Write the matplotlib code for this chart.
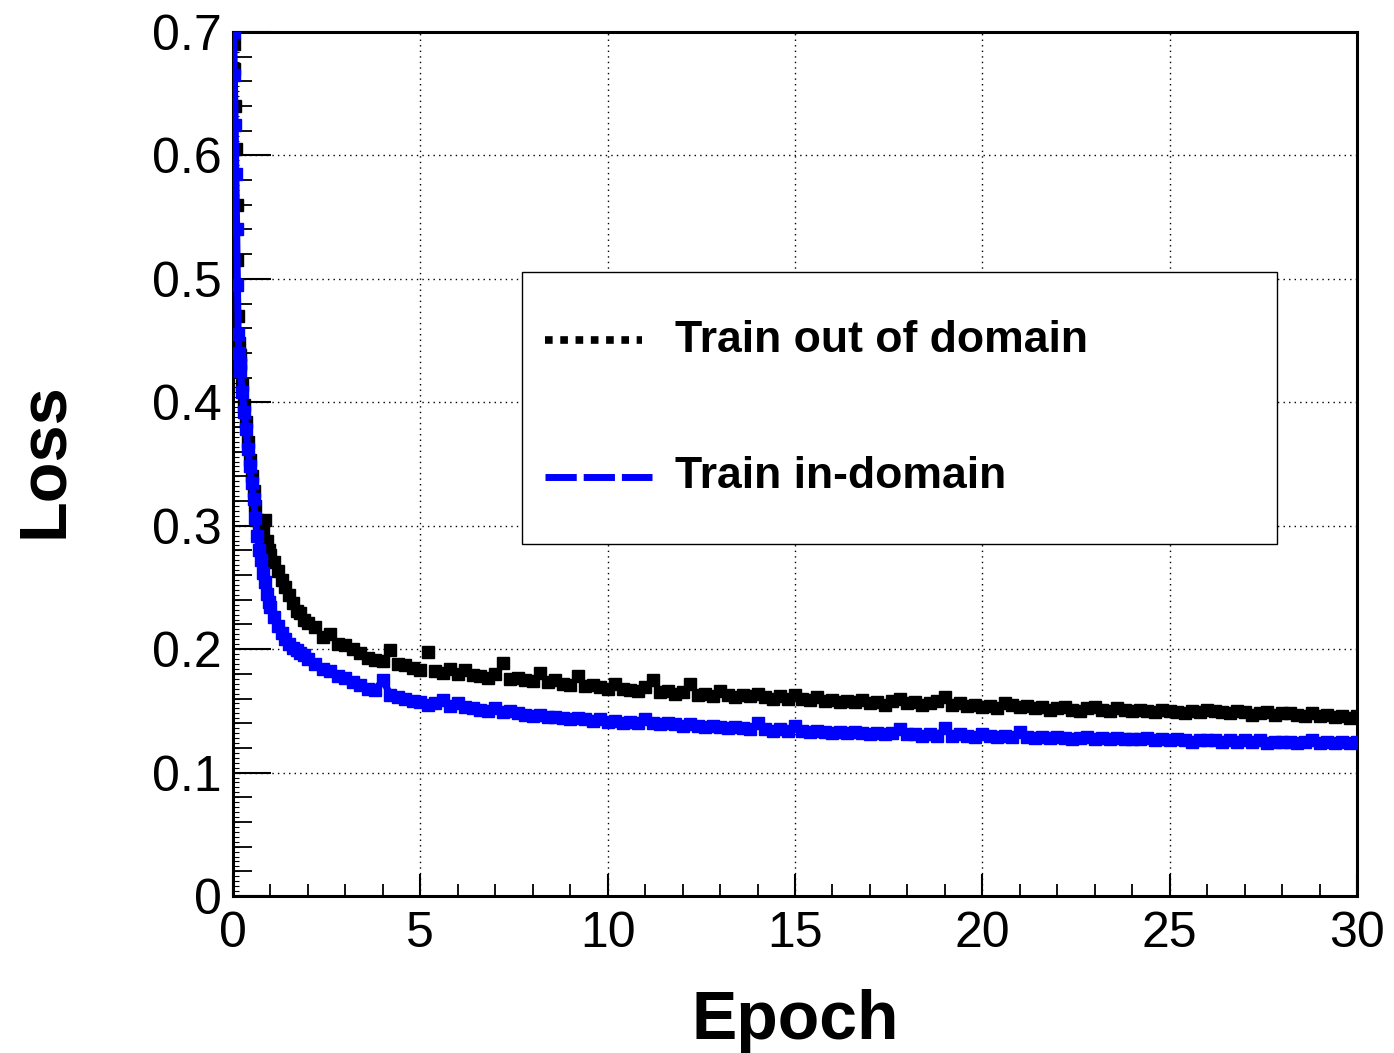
import numpy as np
import matplotlib.pyplot as plt
import matplotlib.patches as patches
from matplotlib.lines import Line2D
from matplotlib.ticker import MultipleLocator, FuncFormatter

plt.rcParams['font.family'] = ['Liberation Sans', 'DejaVu Sans']

# --- data ------------------------------------------------------------------
# first two epochs are logged more densely
epochs_early = [0.02, 0.04, 0.06, 0.08, 0.10, 0.12, 0.14, 0.16, 0.18, 0.20,
                0.25, 0.30, 0.35, 0.40, 0.45, 0.50, 0.55, 0.60, 0.65, 0.70,
                0.75, 0.80, 0.85, 0.90, 0.95, 1.00, 1.1, 1.2, 1.3, 1.4,
                1.5, 1.6, 1.7, 1.8, 1.9, 2.0]
loss_out_early = [0.690, 0.670, 0.640, 0.605, 0.560, 0.515, 0.470, 0.448, 0.438, 0.430,
                  0.414, 0.398, 0.384, 0.368, 0.353, 0.340, 0.328, 0.316, 0.305, 0.297,
                  0.292, 0.296, 0.305, 0.288, 0.280, 0.276, 0.271, 0.263, 0.256, 0.250,
                  0.244, 0.237, 0.231, 0.229, 0.224, 0.221]
loss_in_early = [0.700, 0.665, 0.625, 0.585, 0.540, 0.495, 0.455, 0.440, 0.432, 0.425,
                 0.408, 0.392, 0.378, 0.362, 0.348, 0.335, 0.322, 0.306, 0.292, 0.280,
                 0.272, 0.262, 0.254, 0.245, 0.238, 0.234, 0.226, 0.219, 0.213, 0.208,
                 0.204, 0.201, 0.199, 0.197, 0.195, 0.192]

# afterwards every 0.2 epoch, from 2.2 to 30.0
epochs_late = np.round(np.arange(2.2, 30.01, 0.2), 1)
loss_out_late = [
    0.218, 0.210, 0.212, 0.204, 0.203, 0.200, 0.197, 0.193, 0.191, 0.190,
    0.199, 0.188, 0.187, 0.185, 0.183, 0.198, 0.182, 0.181, 0.184, 0.180,
    0.183, 0.179, 0.178, 0.177, 0.180, 0.189, 0.176, 0.177, 0.175, 0.174,
    0.181, 0.173, 0.175, 0.172, 0.171, 0.178, 0.170, 0.171, 0.169, 0.168,
    0.172, 0.168, 0.167, 0.166, 0.169, 0.175, 0.165, 0.166, 0.164, 0.165,
    0.172, 0.163, 0.164, 0.162, 0.166, 0.163, 0.161, 0.163, 0.162, 0.164,
    0.161, 0.160, 0.162, 0.160, 0.163, 0.160, 0.159, 0.161, 0.158, 0.159,
    0.157, 0.158, 0.157, 0.159, 0.156, 0.157, 0.155, 0.158, 0.160, 0.156,
    0.157, 0.155, 0.156, 0.158, 0.161, 0.155, 0.156, 0.154, 0.155, 0.153,
    0.154, 0.152, 0.156, 0.155, 0.153, 0.154, 0.152, 0.153, 0.151, 0.152,
    0.153, 0.151, 0.150, 0.152, 0.153, 0.151, 0.150, 0.152, 0.151, 0.150,
    0.151, 0.150, 0.149, 0.151, 0.150, 0.149, 0.148, 0.150, 0.149, 0.151,
    0.150, 0.149, 0.148, 0.150, 0.149, 0.147, 0.148, 0.149, 0.147, 0.148,
    0.148, 0.147, 0.146, 0.148, 0.146, 0.147, 0.145, 0.146, 0.144, 0.146,
]
loss_in_late = [
    0.188, 0.184, 0.182, 0.178, 0.177, 0.173, 0.171, 0.168, 0.167, 0.175,
    0.163, 0.161, 0.160, 0.158, 0.157, 0.155, 0.156, 0.159, 0.154, 0.156,
    0.153, 0.152, 0.151, 0.150, 0.152, 0.149, 0.150, 0.148, 0.147, 0.146,
    0.147, 0.145, 0.145, 0.144, 0.143, 0.144, 0.143, 0.142, 0.143, 0.141,
    0.142, 0.140, 0.141, 0.140, 0.143, 0.140, 0.139, 0.140, 0.139, 0.138,
    0.139, 0.138, 0.137, 0.138, 0.137, 0.136, 0.137, 0.136, 0.135, 0.140,
    0.135, 0.134, 0.135, 0.134, 0.138, 0.134, 0.133, 0.134, 0.133, 0.132,
    0.133, 0.132, 0.133, 0.132, 0.131, 0.132, 0.131, 0.132, 0.135, 0.131,
    0.131, 0.130, 0.131, 0.130, 0.136, 0.130, 0.131, 0.130, 0.129, 0.131,
    0.130, 0.129, 0.130, 0.129, 0.133, 0.129, 0.128, 0.129, 0.128, 0.129,
    0.128, 0.127, 0.128, 0.129, 0.127, 0.128, 0.127, 0.128, 0.127, 0.127,
    0.127, 0.128, 0.126, 0.127, 0.126, 0.127, 0.126, 0.125, 0.126, 0.126,
    0.126, 0.125, 0.126, 0.125, 0.126, 0.125, 0.126, 0.124, 0.125, 0.125,
    0.125, 0.124, 0.125, 0.126, 0.124, 0.125, 0.124, 0.125, 0.124, 0.125,
]

series_labels = ['Train out of domain', 'Train in-domain']

epochs = np.concatenate([epochs_early, epochs_late])
loss_out = np.concatenate([loss_out_early, loss_out_late])
loss_in = np.concatenate([loss_in_early, loss_in_late])

BLUE = '#0000ff'

fig = plt.figure(figsize=(13.94, 10.53), dpi=100)
ax = fig.add_axes([0.1671, 0.1491, 0.8064, 0.8205])

ax.plot(epochs, loss_out, ls='none', marker='s', ms=8, color='black', zorder=3)
ax.plot(epochs, loss_in, ls='-', lw=5, marker='s', ms=8, color=BLUE,
        mec=BLUE, zorder=4)

ax.set_xlim(0, 30)
ax.set_ylim(0, 0.7)

# ROOT-like axes: inward ticks, dotted grid
ax.xaxis.set_major_locator(MultipleLocator(5))
ax.xaxis.set_minor_locator(MultipleLocator(1))
ax.yaxis.set_major_locator(MultipleLocator(0.1))
ax.yaxis.set_minor_locator(MultipleLocator(0.02))
ax.yaxis.set_major_formatter(FuncFormatter(lambda v, _: '0' if abs(v) < 1e-9 else f'{v:.1f}'))
ax.xaxis.set_major_formatter(FuncFormatter(lambda v, _: f'{v:.0f}'))

ax.tick_params(which='both', direction='in', top=False, right=False, color='black')
ax.tick_params(axis='x', which='major', length=16, width=1.5, labelsize=36, pad=11)
ax.tick_params(axis='x', which='minor', length=8.5, width=1.3)
ax.tick_params(axis='y', which='major', length=27, width=1.5, labelsize=36, pad=8)
ax.tick_params(axis='y', which='minor', length=14, width=1.3)

# tiny third-level ticks on the y axis
sec = ax.secondary_yaxis('left')
sec.yaxis.set_major_locator(MultipleLocator(0.004))
sec.tick_params(direction='in', length=4, width=0.8, labelleft=False)

ax.grid(True, which='major', color='black', ls=(0, (1, 3)), lw=1, zorder=0)
ax.set_axisbelow(True)

for sp in ax.spines.values():
    sp.set_linewidth(2.2)

ax.set_xlabel('Epoch', fontsize=49, fontweight='bold')
ax.xaxis.set_label_coords(0.5, -0.108)
ax.set_ylabel('Loss', fontsize=48, fontweight='bold')
ax.yaxis.set_label_coords(-0.14, 0.505)

# legend box drawn by hand to match the ROOT layout
box = patches.Rectangle((0.257, 0.407), 0.672, 0.315, transform=ax.transAxes,
                        facecolor='white', edgecolor='black', lw=1, zorder=6)
ax.add_patch(box)
ax.add_line(Line2D([0.278, 0.364], [0.6435, 0.6435], transform=ax.transAxes,
                   color='black', lw=5.5, ls=(0, (1, 1)), solid_capstyle='butt',
                   dash_capstyle='butt', zorder=7))
ax.add_line(Line2D([0.278, 0.373], [0.485, 0.485], transform=ax.transAxes,
                   color=BLUE, lw=5, ls=(0, (4.5, 1)), dash_capstyle='butt', zorder=7))
ax.text(0.393, 0.6435, series_labels[0], transform=ax.transAxes, fontsize=32,
        fontweight='bold', va='center', ha='left', zorder=7)
ax.text(0.393, 0.485, series_labels[1], transform=ax.transAxes, fontsize=32,
        fontweight='bold', va='center', ha='left', zorder=7)

plt.savefig('out.png', dpi=100)
